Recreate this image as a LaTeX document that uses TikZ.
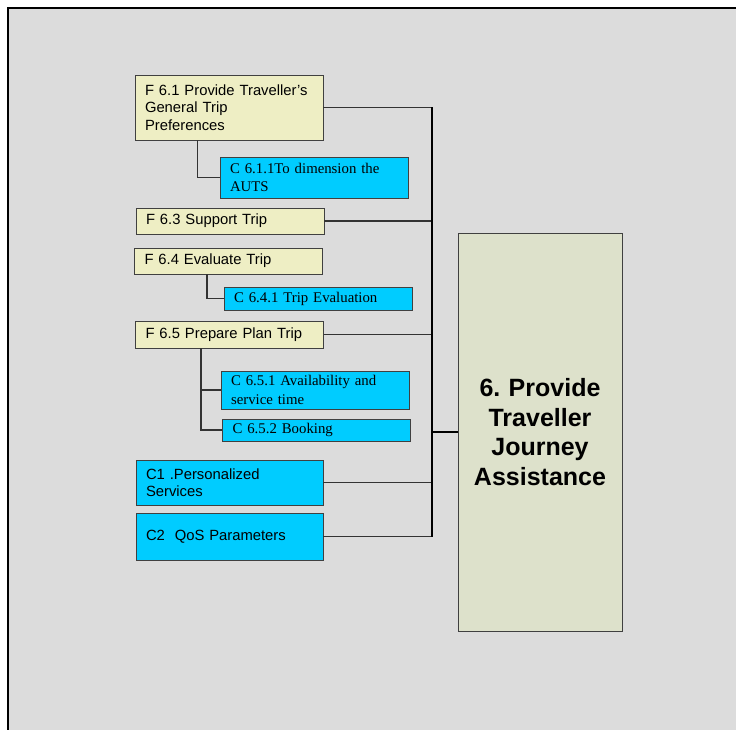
\documentclass[tikz,border=0pt]{standalone}
\usepackage{fontspec}
\setmainfont{Liberation Serif}
\setsansfont{Liberation Sans}
\usetikzlibrary{calc}
\frenchspacing

\definecolor{bggray}{HTML}{DCDCDC}
\definecolor{funcyellow}{HTML}{EEEEC4}
\definecolor{compcyan}{HTML}{00CCFF}
\definecolor{mainfill}{HTML}{DDE1CB}

\tikzset{
	box/.style={draw=black!75, line width=0.9pt, rectangle, inner xsep=10pt, inner ysep=0pt, align=left},
	func/.style={box, fill=funcyellow, text width=168pt, font=\sffamily\fontsize{14.8}{17.5}\selectfont},
	comp/.style={box, fill=compcyan, text width=168pt, font=\rmfamily\fontsize{14.8}{18.5}\selectfont},
	crit/.style={box, fill=compcyan, text width=167pt, font=\sffamily\fontsize{14.8}{17.5}\selectfont},
	link/.style={draw=black!80, line width=1.2pt}
}

\begin{document}
\begin{tikzpicture}[x=1pt, y=-1pt]
	\useasboundingbox (0,0) rectangle (736,730);
	\draw[line width=2pt, fill=bggray] (8,8) rectangle (750,745);
	\node[func, minimum height=65pt] (f61) at (229,107.5) {F 6.1 Provide Traveller's\\General Trip\\Preferences};
	\node[comp, minimum height=41pt] (c611) at (314,177.5) {C 6.1.1To dimension the\\AUTS};
	\node[func, minimum height=26pt] (f63) at (230,221) {F 6.3 Support Trip};
	\node[func, minimum height=26pt] (f64) at (228.5,261) {F 6.4 Evaluate Trip};
	\node[comp, minimum height=23pt] (c641) at (318,298.5) {C 6.4.1 Trip Evaluation};
	\node[func, minimum height=27pt] (f65) at (229.5,334.5) {F 6.5 Prepare Plan Trip};
	\node[comp, minimum height=38pt] (c651) at (315,390) {C 6.5.1 Availability and\\service time};
	\node[comp, minimum height=22pt] (c652) at (316.5,430) {C 6.5.2 Booking};
	\node[crit, minimum height=45pt] (c1) at (229.5,482.5) {C1 .Personalized\\Services};
	\node[crit, minimum height=47pt] (c2) at (229.5,536.5) {C2\ \ QoS Parameters};
	\node[box, fill=mainfill, minimum width=164pt, minimum height=398pt, text width=144pt, align=center,
		font=\sffamily\bfseries\fontsize{25}{29.5}\selectfont] (main) at (540,432)
		{6. Provide\\Traveller\\Journey\\Assistance};
	\coordinate (bus) at (432,0);

	% sub links
	\draw[link] ([xshift=63pt]f61.south west) |- (c611.west);
	\draw[link] ([xshift=73pt]f64.south west) |- (c641.west);
	\draw[link] ([xshift=66pt]f65.south west) |- (c651.west);
	\draw[link] ([xshift=66pt]f65.south west) |- (c652.west);

	% links to the bus
	\foreach \n in {f61, f63, f65, c1, c2}
		\draw[link] (\n.east) -- (\n.east -| bus);
	\draw[link, draw=black] (f61.east -| bus) -- (c2.east -| bus);
	\draw[link, draw=black] (main.west -| bus) -- (main.west);
\end{tikzpicture}
\end{document}
